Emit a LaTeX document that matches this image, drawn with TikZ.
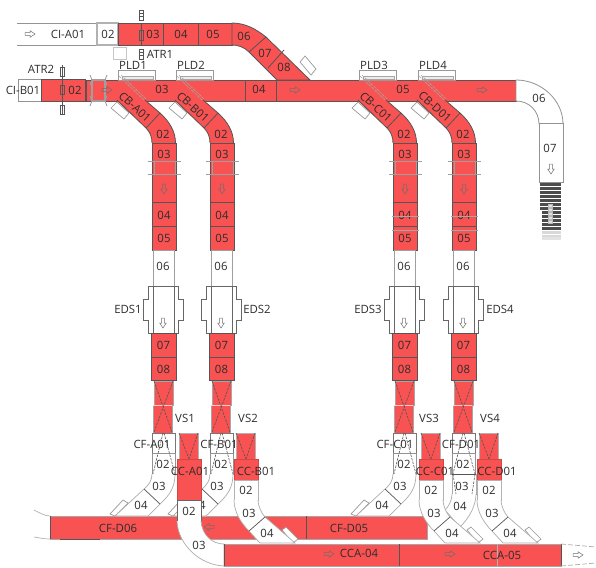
\documentclass[tikz,border=0pt]{standalone}
\usepackage{fontspec}
\setmainfont{Open Sans}
\usepackage{xcolor}
\usetikzlibrary{positioning, arrows.meta, calc}
\definecolor{beltred}{RGB}{248,82,82}
\definecolor{edgegray}{RGB}{85,85,85}
\definecolor{txtgray}{RGB}{45,45,45}
\tikzset{
  redpart/.style={draw=edgegray, fill=beltred, line width=0.8pt},
  whitepart/.style={draw=gray!85, fill=white, line width=0.8pt},
  lbl/.style={font=\fontsize{11.4}{13}\selectfont, text=txtgray, inner sep=0pt},
  slider/.style={draw=gray!80, fill=white, line width=0.7pt},
  flow/.pic={\draw[draw=edgegray!85, line width=0.5pt]
    (-5,-1.3) -- (0,-1.3) -- (0,-3.3) -- (5,0) -- (0,3.3) -- (0,1.3) -- (-5,1.3) -- cycle;}
}
\begin{document}
\begin{tikzpicture}[
    x=1pt, y=-1pt,
    gate/.style={draw=gray!75, line width=1.5pt},
    tick/.style={draw=gray!75, line width=0.9pt},
    cross/.style={draw=edgegray, dash pattern=on 2.5pt off 1.2pt, line width=0.6pt},
    atrpart/.style={draw=edgegray, line width=0.7pt},
    tray/.style={draw=gray!65, fill=white, line width=0.7pt}
]
\useasboundingbox (0,0) rectangle (596,567);
\draw[whitepart, fill=none] (97,23) -- (17,23) (17,45) -- (97,45);
\draw[whitepart, draw=gray!60, line width=1.1pt] (97,23) rectangle (118,45);
\fill[beltred] (118,23) rectangle (232,45);
\draw[redpart] (118,23) rectangle (163,45);
\draw[redpart] (163,23) rectangle (198,45);
\draw[redpart] (198,23) rectangle (232,45);
\draw[whitepart, draw=gray!45] (113,47) rectangle (126,59);
\draw[redpart] (232,23) .. controls (245,23) and (256,29) .. (266,37) -- (310,80)
    -- (277,80) -- (249,52) .. controls (244,47) and (238,45) .. (232,45) -- cycle;
\draw[edgegray, line width=0.8pt] (266,37) -- (249,52) (284,50) -- (268,68);
\draw[slider] (300,62) -- (305,56) -- (316,69) -- (311,75) -- cycle;
\pic at (30,34) {flow};
\node[lbl] (cia01) at (68,34) {CI-A01};
\node[lbl] (cia02) at (108,34) {02};
\node[lbl] (cia03) at (153,34) {03};
\node[lbl] (cia04) at (181,34) {04};
\node[lbl] (cia05) at (213,34) {05};
\node[lbl] (cia06) at (244,36) {06};
\node[lbl] (cia07) at (265,53) {07};
\node[lbl] (cia08) at (284,67) {08};
\draw[edgegray, line width=0.9pt] (141,23) -- (141,45);
\draw[atrpart] (139,30) rectangle (143,40);
\draw[atrpart] (139.5,10) rectangle (143.5,20);
\draw[atrpart] (139.5,49) rectangle (143.5,59);
\draw[edgegray, line width=0.4pt] (139.5,13) -- (143.5,13) (139.5,16) -- (143.5,16)
    (139.5,52) -- (143.5,52) (139.5,55) -- (143.5,55);
\node[lbl] (atr1) at (160,54) {ATR1};
% main line
\draw[whitepart] (18,79) rectangle (41,101);
\draw[redpart] (41,79) rectangle (85.5,101);
\draw[redpart] (86.5,80) rectangle (516,101);
\draw[edgegray, line width=0.8pt] (245,80) -- (245,101) (276,80) -- (276,101);
\draw[gate] (92,80) rectangle (105,101);
\draw[tick] (90,75) -- (92,80) -- (90,85) (107,75) -- (105,80) -- (107,85)
    (90,96) -- (92,101) -- (90,106) (107,96) -- (105,101) -- (107,106);
\draw[edgegray, line width=1.1pt] (62.5,65) -- (62.5,115);
\foreach \ya in {67,85,105}
    \draw[atrpart] (60.5,\ya) rectangle (64.5,\ya+9.5);
\node[lbl] (atr2) at (41,69) {ATR2};
\node[lbl] (cib01) at (23,90) {CI-B01};
\node[lbl] (cib02) at (75,90) {02};
\pic at (107,90) {flow};
\node[lbl] (cib03) at (162,89) {03};
\node[lbl] (cib04) at (259,89) {04};
\pic at (295,90) {flow};
\node[lbl] (cib05) at (403,89) {05};
\pic at (482,90) {flow};
\draw[whitepart] (516,80) .. controls (541,80) and (563,100) .. (563,124)
    -- (539,124) .. controls (539,111) and (529,101) .. (516,101) -- cycle;
\draw[whitepart] (539,123) rectangle (563,182);
\node[lbl] (cib06) at (539,98) {06};
\node[lbl] (cib07) at (550,148) {07};
\pic[rotate=-90] at (551,169) {flow};
\foreach \ya in {183,187,...,207}
    \fill[edgegray!90!black] (540,\ya) rectangle (561,\ya+3);
\foreach \ya in {211,215,...,227}
    \fill[edgegray!90!black] (542,\ya) rectangle (561,\ya+3);
\foreach \ya in {231,235}
    \fill[gray!30] (542,\ya) rectangle (561,\ya+2.8);
\fill[gray!22] (542,237) rectangle (561,240);
\foreach \ya in {204,208,...,220}
    \draw[gray!55, fill=gray!25, line width=0.5pt] (548.5,\ya) rectangle (552.5,\ya+3.5);
% vertical lines
\foreach \x/\m/\n/\ex/\vx/\cx in {152/A/1/-24/33/0, 210/B/2/47/38/9, 393/C/3/-25/36/2, 452/D/4/48/38/9} {
\begin{scope}[shift={(\x,0)}]
  \draw[whitepart, draw=gray!80] (-34,70) rectangle (3,80);
  \draw[gray!70, fill=gray!15, line width=0.4pt] (-30,76.5) rectangle (1,79);
  \node[lbl] (pld\n) at (-19,65) {PLD\n};
  \draw[slider] (-41,108) -- (-35,102) -- (-23,113) -- (-28,119) -- cycle;
  \fill[beltred] (-36,100) -- (-7,100) -- (8,113) .. controls (18,122) and (23.5,132) .. (23.5,143)
      -- (0,143) .. controls (0,137) and (-2,132) .. (-6,128) -- cycle;
  \draw[edgegray, line width=0.8pt] (-35,100) -- (-6,128) .. controls (-2,132) and (0,137) .. (0,143)
      (-7,100) -- (8,113) .. controls (18,122) and (23.5,132) .. (23.5,143) (8,113) -- (-6,128);
  \draw[gray!70, dash pattern=on 3pt off 1pt, line width=0.6pt] (-33,76) -- (-8,100) (-31,75) -- (-6,99);
  \node[lbl, rotate=-42] (cb\m) at (-17,107) {CB-\m01};
  \node[lbl] (cb\m02) at (11,134) {02};
  \draw[redpart] (0,143) rectangle (24,202);
  \draw[redpart] (0,202) rectangle (24,226);
  \draw[redpart] (0,226) rectangle (24,250);
  \draw[gate, line width=0.8pt] (2,161) rectangle (23,174);
  \draw[tick, line width=0.7pt] (-4,161) -- (29,161) (-4,174) -- (29,174);
  \node[lbl] (cb\m03) at (12,154) {03};
  \pic[rotate=-90] at (12,189) {flow};
  \node[lbl] (cb\m04) at (12,215) {04};
  \node[lbl] (cb\m05) at (12,238) {05};
  \draw[whitepart, draw=gray!75] (1,250) rectangle (22,286);
  \node[lbl] (cb\m06) at (11,266) {06};
  \draw[edgegray!90, fill=white, line width=0.7pt] (-4,286) -- (26,286) -- (26,299) -- (31,299) -- (31,320)
      -- (26,320) -- (26,333) -- (-4,333) -- (-4,320) -- (-9,320) -- (-9,299) -- (-4,299) -- cycle;
  \draw[edgegray!90, line width=0.7pt] (1,286) -- (1,333) (22,286) -- (22,333);
  \node[lbl] (eds\n) at (\ex,309) {EDS\n};
  \pic[rotate=-90] at (11,323) {flow};
  \draw[redpart] (-1,333) rectangle (24,357);
  \draw[redpart] (-1,357) rectangle (24,380);
  \node[lbl] (cb\m07) at (11.5,345) {07};
  \node[lbl] (cb\m08) at (11.5,369) {08};
  \draw[redpart, draw=gray!70] (2,381) rectangle (21,405);
  \draw[redpart, draw=gray!70] (1,405) rectangle (20,433);
  \draw[draw=white!70!beltred, line width=0.6pt] (1,405) -- (20,405);
  \node[lbl] (vs\n) at (\vx,418) {VS\n};
  \draw[whitepart, draw=edgegray!80] (0,433) rectangle (23,453);
  \draw[whitepart] (0,453) rectangle (23,474);
  \draw[cross] (2,381) -- (20,432) (21,381) -- (2,432);
  \draw[cross] (11,433) -- (1,474) (12,433) -- (23,474);
  \node[lbl] (cf\m) at (\cx,444) {CF-\m01};
  \node[lbl] (cf\m02) at (11,464) {02};
\end{scope}
}
\foreach \x in {393,452}
    \draw[gray!70, line width=0.8pt] (\x-1,216) -- (\x+26,216) (\x-1,230) -- (\x+26,230);
% outfeed belts
\draw[gray!60, line width=0.7pt] (34,510) .. controls (40,513) and (45,516) .. (50,516)
    (34,537) .. controls (40,538) and (45,539) .. (50,539);
\draw[redpart, draw=gray!70] (50,516) rectangle (427,539);
\draw[edgegray, line width=0.8pt] (50,516) -- (50,539) (306,516) -- (306,539) (60,539) -- (100,539);
\pic[rotate=180] at (209,527) {flow};
\node[lbl] (cfd06) at (118,528) {CF-D06};
\node[lbl] (cfd05) at (349,528) {CF-D05};
\foreach \x in {152,210,393} {
\begin{scope}[shift={(\x,0)}]
  \draw[slider] (-42,514) -- (-29,500) -- (-24,503) -- (-37,516) -- cycle;
  \draw[tray] (0,474) .. controls (0,480) and (-3,485) .. (-8,489) -- (-37,516) -- (-4,516) -- (8,504)
      .. controls (18,495) and (23,487) .. (23,474);
  \draw[edgegray, line width=0.7pt] (-8,489) -- (8,504);
  \node[lbl] (cf\x03) at (7,486) {03};
  \node[lbl] (cf\x04) at (-11,505) {04};
\end{scope}
}
\begin{scope}[shift={(452,0)}]
  \draw[tray] (0,474) rectangle (24,494);
  \draw[edgegray, line width=0.6pt] (0,474) -- (24,474);
  \draw[tray] (0,494) .. controls (0,500) and (-3,506) .. (-7,510) -- (8,527)
      .. controls (18,517) and (24,505) .. (24,494);
  \draw[cross] (1,474) -- (4,494) (23,474) -- (20,494);
  \node[lbl] (cfD03) at (10,486) {03};
  \node[lbl] (cfD04) at (8,506) {04};
\end{scope}
\fill[white] (224,541) rectangle (596,543);
\draw[redpart, draw=gray!70] (224,544) rectangle (561,566);
\draw[edgegray, line width=0.9pt] (224,544) -- (224,566) (399,544) -- (399,566) (561,544) -- (561,566);
\draw[gray!60, line width=0.4pt] (497,544) -- (497,566);
\draw[gray!65, line width=0.7pt, dash pattern=on 5pt off 2pt] (561,544) -- (596,547) (561,566) -- (596,563);
\pic at (329,554) {flow};
\node[lbl] (cca04) at (359,553) {CCA-04};
\pic at (450,554) {flow};
\node[lbl] (cca05) at (502,555) {CCA-05};
\pic at (578,555) {flow};
\foreach \x/\m/\lx/\r/\w/\t in {177/A/13/500/521/511, 234/B/22/480/500/490, 419/C/16/480/500/490, 477/D/20/480/500/490} {
\begin{scope}[shift={(\x,0)}]
  \draw[redpart, draw=gray!60] (2,433) rectangle (21,459);
  \draw[cross] (2,433) -- (12,459) (21,433) -- (12,459);
  \draw[redpart, draw=beltred!85!black] (0,459) rectangle (24,\r);
  \draw[whitepart, draw=gray!60] (0,\r) rectangle (24,\w);
  \node[lbl] (cc\m) at (\lx,471) {CC-\m01};
  \node[lbl] (cc\m02) at (12,\t) {02};
\end{scope}
}
\draw[whitepart, draw=edgegray!90] (177,500) rectangle (201,521);
\draw[tray] (177,521) .. controls (178,545) and (200,565) .. (224,566) -- (224,544)
    .. controls (212,544) and (202,535) .. (201,521);
\draw[edgegray, line width=0.9pt] (224,544) -- (224,566);
\node[lbl] (ccA02) at (189,511) {02};
\node[lbl] (ccA03) at (199,545) {03};
\foreach \x in {234,419,477} {
\begin{scope}[shift={(\x,0)}]
  \draw[slider] (48,530) -- (52,527) -- (64,539) -- (59,543) -- cycle;
  \draw[tray] (0,500) .. controls (0,512) and (7,523) .. (15,531) -- (26,543) -- (61,543) -- (31,517)
      .. controls (27,513) and (24,505) .. (24,500);
  \draw[edgegray, line width=0.7pt] (15,531) -- (31,517);
  \node[lbl] (cc\x03) at (15,513) {03};
  \node[lbl] (cc\x04) at (33,533) {04};
\end{scope}
}
\end{tikzpicture}
\end{document}
